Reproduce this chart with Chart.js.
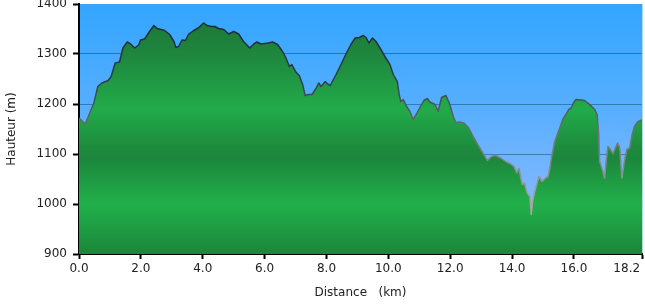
<!DOCTYPE html>
<html lang="fr">
<head>
<meta charset="utf-8">
<title>Profil altimétrique</title>
<script src="https://cdn.jsdelivr.net/npm/chart.js@4.4.1/dist/chart.umd.min.js"></script>
<style>
    html, body { margin: 0; padding: 0; background: #fff; }
    #wrap { width: 645px; height: 304px; position: relative; }
</style>
</head>
<body>
<div id="wrap"><canvas id="profile"></canvas></div>
<script>
// distance along the track (km) and matching elevation (m)
const distanceKm = [
    0.00, 0.20, 0.48, 0.61, 0.74, 0.94, 1.04, 1.17, 1.31, 1.42, 1.56, 1.67, 1.80, 1.93, 1.99,
    2.12, 2.28, 2.42, 2.53, 2.77, 2.93, 3.07, 3.13, 3.22, 3.33, 3.44, 3.55, 3.71, 3.85, 4.03,
    4.14, 4.28, 4.39, 4.51, 4.68, 4.84, 5.00, 5.16, 5.32, 5.52, 5.65, 5.75, 5.89, 6.11, 6.26,
    6.42, 6.58, 6.69, 6.80, 6.88, 7.01, 7.12, 7.23, 7.31, 7.42, 7.53, 7.66, 7.75, 7.82, 7.96,
    8.04, 8.12, 8.31, 8.47, 8.63, 8.79, 8.93, 9.06, 9.19, 9.28, 9.37, 9.49, 9.60, 9.73, 9.89,
    10.05, 10.16, 10.29, 10.35, 10.40, 10.48, 10.59, 10.70, 10.80, 10.91, 11.02, 11.15, 11.26, 11.34, 11.51,
    11.61, 11.72, 11.86, 11.97, 12.10, 12.18, 12.28, 12.44, 12.60, 12.77, 12.93, 13.09, 13.20, 13.33, 13.47,
    13.63, 13.79, 13.95, 14.06, 14.15, 14.22, 14.33, 14.40, 14.49, 14.58, 14.62, 14.66, 14.72, 14.87, 14.97,
    15.08, 15.16, 15.22, 15.27, 15.38, 15.54, 15.64, 15.75, 15.83, 15.91, 16.00, 16.07, 16.24, 16.34, 16.51,
    16.67, 16.75, 16.80, 16.83, 16.94, 16.99, 17.04, 17.10, 17.18, 17.26, 17.34, 17.41, 17.48, 17.55, 17.63,
    17.71, 17.80, 17.88, 17.96, 18.06, 18.15, 18.20,
];
const elevationM = [
    1172, 1160, 1202, 1235, 1242, 1247, 1255, 1282, 1284, 1312, 1324, 1320, 1312, 1318, 1328,
    1330, 1345, 1357, 1351, 1347, 1339, 1325, 1313, 1315, 1328, 1327, 1340, 1347, 1352, 1362,
    1357, 1355, 1355, 1351, 1349, 1340, 1345, 1340, 1325, 1312, 1320, 1324, 1320, 1322, 1324,
    1319, 1305, 1292, 1275, 1279, 1264, 1257, 1239, 1217, 1219, 1219, 1231, 1242, 1235, 1245,
    1240, 1237, 1259, 1279, 1300, 1319, 1332, 1333, 1337, 1333, 1322, 1332, 1325, 1312, 1295,
    1279, 1259, 1245, 1219, 1205, 1209, 1195, 1185, 1169, 1180, 1193, 1207, 1211, 1204, 1199,
    1185, 1213, 1217, 1202, 1175, 1163, 1164, 1162, 1152, 1132, 1115, 1099, 1087, 1095, 1097,
    1092, 1085, 1080, 1075, 1062, 1071, 1039, 1042, 1022, 1015, 979, 1005, 1022, 1055, 1045,
    1052, 1055, 1072, 1092, 1125, 1152, 1169, 1180, 1189, 1192, 1204, 1209, 1208, 1207, 1199,
    1189, 1179, 1139, 1085, 1065, 1052, 1085, 1115, 1109, 1100, 1112, 1122, 1112, 1052, 1085,
    1109, 1112, 1139, 1155, 1164, 1167, 1168,
];
const distanceTicks = [0, 2, 4, 6, 8, 10, 12, 14, 16, 18.2];
const elevationTicks = [900, 1000, 1100, 1200, 1300, 1400];

const COLORS = {
    text: '#222222',
    axis: '#000000',
    grid: 'rgba(0, 35, 45, 0.38)',
    edge: '#a9ddd6',
};

const FONT = { family: '"DejaVu Sans", Verdana, sans-serif', size: 12 };

function verticalGradient(chart, stops) {
    const area = chart.chartArea;
    if (! area) {
        return null;
    }
    const g = chart.ctx.createLinearGradient(0, area.top, 0, area.bottom);
    stops.forEach(([at, color]) => g.addColorStop(at, color));
    return g;
}

const skyPlugin = {
    id: 'sky',
    beforeDraw(chart) {
        const { ctx, chartArea: a } = chart;
        ctx.save();
        ctx.fillStyle = verticalGradient(chart, [
            [0, '#33a5ff'], [0.4, '#55aeff'], [0.8, '#84b8ff'], [1, '#8fbcff'],
        ]);
        ctx.fillRect(a.left, a.top, a.right - a.left, a.bottom - a.top);
        ctx.restore();
    },
    afterDraw(chart) {
        // thin pale edge on the right of the plot
        const { ctx, chartArea: a } = chart;
        ctx.save();
        ctx.strokeStyle = COLORS.edge;
        ctx.lineWidth = 1;
        ctx.beginPath();
        ctx.moveTo(a.right + 0.5, a.top);
        ctx.lineTo(a.right + 0.5, a.bottom - 1);
        ctx.stroke();
        ctx.restore();
    },
};

new Chart(document.getElementById('profile'), {
    type: 'line',
    data: {
        datasets: [{
            data: distanceKm.map((d, i) => ({ x: d, y: elevationM[i] })),
            fill: 'start',
            tension: 0,
            pointRadius: 0,
            borderWidth: 1.5,
            borderJoinStyle: 'round',
            borderColor: (c) => verticalGradient(c.chart, [
                [0, '#142535'], [0.3, '#2a3d48'], [0.5, '#66706f'], [0.8, '#a4a6a6'], [1, '#b0b0b0'],
            ]) || '#333',
            backgroundColor: (c) => verticalGradient(c.chart, [
                [0, '#1a7234'], [0.2, '#1e863d'], [0.42, '#22ab4a'], [0.58, '#1d8a3d'],
                [0.62, '#1c873c'], [0.8, '#22b04b'], [1, '#1b8639'],
            ]) || '#1e9a42',
        }],
    },
    options: {
        responsive: true,
        maintainAspectRatio: false,
        animation: false,
        layout: { autoPadding: false, padding: { left: 0, top: 4, right: 3, bottom: 0 } },
        plugins: { legend: { display: false }, tooltip: { enabled: false } },
        scales: {
            x: {
                type: 'linear',
                min: 0,
                max: 18.2,
                z: 1,
                afterFit(scale) {
                    scale.height = 50;
                    scale.paddingLeft = 0;
                    scale.paddingRight = 0;
                },
                afterBuildTicks(scale) { scale.ticks = distanceTicks.map((v) => ({ value: v })); },
                border: { display: true, color: COLORS.axis, width: 2 },
                grid: { drawOnChartArea: false, tickColor: COLORS.axis, tickLength: 5, tickWidth: 2 },
                ticks: {
                    color: COLORS.text,
                    font: FONT,
                    padding: 3,
                    maxRotation: 0,
                    // last label sits left of its tick so it stays on the canvas
                    callback: (v) => (v === 18.2 ? '18.2\u2007\u2007\u2007\u2007' : Number(v).toFixed(1)),
                },
                title: { display: true, text: 'Distance   (km)', color: COLORS.text, font: FONT, padding: { top: 2, bottom: 4 } },
            },
            y: {
                min: 900,
                max: 1400,
                z: 1,
                afterFit(scale) {
                    scale.width = 79;
                    scale.paddingTop = 0;
                    scale.paddingBottom = 0;
                },
                afterBuildTicks(scale) { scale.ticks = elevationTicks.map((v) => ({ value: v })); },
                border: { display: true, color: COLORS.axis, width: 2 },
                grid: {
                    color: (c) => (c.tick && (c.tick.value === 900 || c.tick.value === 1400) ? 'transparent' : COLORS.grid),
                    lineWidth: 1,
                    tickColor: COLORS.axis,
                    tickLength: 6,
                    tickWidth: 2,
                },
                ticks: { color: COLORS.text, font: FONT, padding: 6, callback: (v) => String(v) },
                title: { display: true, text: 'Hauteur (m)', color: COLORS.text, font: FONT, padding: { top: 5, bottom: 2 } },
            },
        },
    },
    plugins: [skyPlugin],
});
</script>
</body>
</html>
